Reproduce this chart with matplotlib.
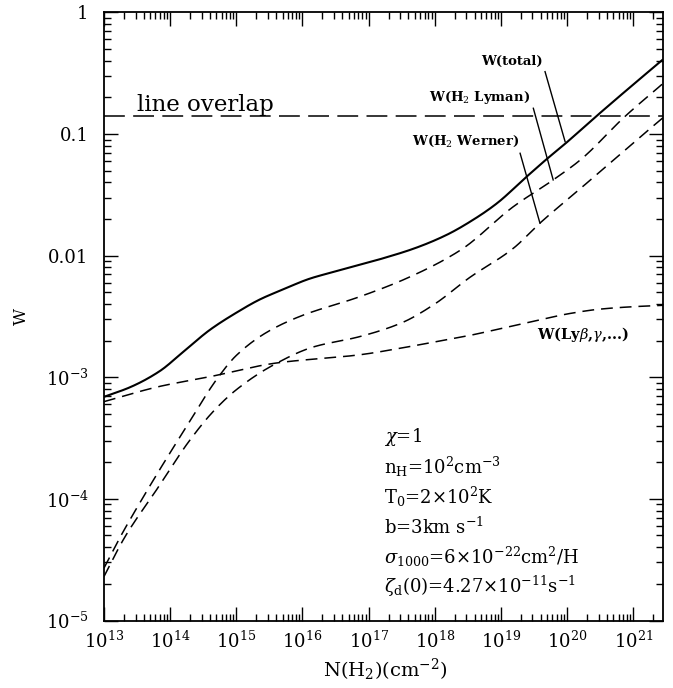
import numpy as np
import matplotlib
matplotlib.use("Agg")
import matplotlib.pyplot as plt

plt.rcParams['font.family'] = ['DejaVu Serif']
plt.rcParams['mathtext.fontset'] = 'dejavuserif'
plt.rcParams['lines.scale_dashes'] = False

# ---- data (log10 N(H2) and W values) ----
logN_total = [13.0, 13.4, 13.84, 14.2, 14.6, 15.0, 15.36, 15.7, 16.11, 16.5, 16.87,
              17.17, 17.7, 18.18, 18.6, 18.94, 19.39, 19.69, 19.97, 20.43, 20.9, 21.45]
W_total = [6.9e-4, 8.3e-4, 1.12e-3, 1.62e-3, 2.45e-3, 3.39e-3, 4.37e-3, 5.25e-3, 6.46e-3,
           7.41e-3, 8.4e-3, 9.33e-3, 1.15e-2, 1.48e-2, 2.0e-2, 2.69e-2, 4.46e-2, 6.2e-2,
           8.3e-2, 0.138, 0.229, 0.41]

logN_lyman = [13.0, 13.24, 13.6, 14.0, 14.25, 14.7, 15.0, 15.46, 15.96, 16.87, 17.575,
              18.39, 19.19, 19.79, 20.2, 20.88, 21.45]
W_lyman = [2.7e-5, 4.8e-5, 1.05e-4, 2.4e-4, 3.94e-4, 9.55e-4, 1.51e-3, 2.34e-3, 3.16e-3,
           4.6e-3, 6.5e-3, 1.11e-2, 2.53e-2, 4.19e-2, 6.11e-2, 0.14, 0.26]

logN_werner = [13.0, 13.31, 13.8, 14.3, 14.65, 15.0, 15.56, 16.16, 16.87, 17.5, 18.0,
               18.51, 19.19, 19.59, 20.2, 20.7, 21.05, 21.45]
W_werner = [2.3e-5, 4.8e-5, 1.2e-4, 3.05e-4, 5.22e-4, 7.89e-4, 1.26e-3, 1.77e-3, 2.16e-3,
            2.8e-3, 4.0e-3, 6.5e-3, 1.15e-2, 1.85e-2, 3.55e-2, 6.1e-2, 8.9e-2, 0.136]

logN_lyb = [13.0, 13.84, 14.6, 15.61, 16.87, 17.5, 18.0, 18.5, 19.0, 19.5, 20.0, 20.5,
            21.0, 21.45]
W_lyb = [6.3e-4, 8.4e-4, 1.01e-3, 1.31e-3, 1.53e-3, 1.74e-3, 1.95e-3, 2.19e-3, 2.51e-3,
         2.88e-3, 3.31e-3, 3.63e-3, 3.8e-3, 3.9e-3]

W_overlap = 0.14

x_ticks = [13, 14, 15, 16, 17, 18, 19, 20, 21]
x_ticklabels = [r'$10^{%d}$' % e for e in x_ticks]
y_ticks = [1e-5, 1e-4, 1e-3, 1e-2, 1e-1, 1]
y_ticklabels = [r'$10^{-5}$', r'$10^{-4}$', r'$10^{-3}$', '0.01', '0.1', '1']

params = [r'$\chi$=1',
          r'n$_{\rm H}$=10$^{2}$cm$^{-3}$',
          r'T$_0$=2×10$^{2}$K',
          r'b=3km s$^{-1}$',
          r'$\sigma_{1000}$=6×10$^{-22}$cm$^{2}$/H',
          r'$\zeta_{\rm d}$(0)=4.27×10$^{-11}$s$^{-1}$']


def pchip(x, y, xs):
    x = np.asarray(x, float); y = np.asarray(y, float)
    h = np.diff(x); d = np.diff(y) / h
    m = np.zeros_like(y)
    m[0], m[-1] = d[0], d[-1]
    for k in range(1, len(x) - 1):
        if d[k - 1] * d[k] > 0:
            w1 = 2 * h[k] + h[k - 1]; w2 = h[k] + 2 * h[k - 1]
            m[k] = (w1 + w2) / (w1 / d[k - 1] + w2 / d[k])
    i = np.clip(np.searchsorted(x, xs) - 1, 0, len(x) - 2)
    t = (xs - x[i]) / h[i]
    h00 = 2 * t**3 - 3 * t**2 + 1; h10 = t**3 - 2 * t**2 + t
    h01 = -2 * t**3 + 3 * t**2; h11 = t**3 - t**2
    return h00 * y[i] + h10 * h[i] * m[i] + h01 * y[i + 1] + h11 * h[i] * m[i + 1]


def smooth(logN, W):
    xs = np.linspace(logN[0], logN[-1], 600)
    ys = pchip(logN, np.log10(W), xs)
    return 10**xs, 10**ys


fig = plt.figure(figsize=(6.73, 6.88), dpi=100)
ax = fig.add_axes([104/673, 1-620.5/688, (663-104)/673, (620.5-12.3)/688])
ax.set_xscale('log'); ax.set_yscale('log')
ax.set_xlim(1e13, 10**21.45)
ax.set_ylim(1e-5, 1)

x, y = smooth(logN_total, W_total)
ax.plot(x, y, color='black', lw=1.5, solid_capstyle='butt')
for lN, W in [(logN_lyman, W_lyman), (logN_werner, W_werner), (logN_lyb, W_lyb)]:
    x, y = smooth(lN, W)
    ax.plot(x, y, color='black', lw=1.1, dashes=(8.5, 5))

ax.plot([1e13, 10**21.45], [W_overlap, W_overlap], color='black', lw=1.1, dashes=(15, 6))
ax.text(10**13.5, 0.155, 'line overlap', fontsize=16.5, ha='left', va='baseline')

# curve labels with pointer lines
lab_kw = dict(fontsize=9.5, fontweight='bold', ha='center', va='center')
ax.text(10**19.17, 10**-0.408, 'W(total)', **lab_kw)
ax.plot([10**19.667, 10**19.97], [10**-0.488, 10**-1.063], color='black', lw=1.0)
ax.text(10**18.68, 10**-0.704, r'W(H$_2$ Lyman)', **lab_kw)
ax.plot([10**19.49, 10**19.79], [10**-0.789, 10**-1.378], color='black', lw=1.0)
ax.text(10**18.47, 10**-1.063, r'W(H$_2$ Werner)', **lab_kw)
ax.plot([10**19.29, 10**19.59], [10**-1.159, 10**-1.734], color='black', lw=1.0)
ax.text(10**20.25, 10**-2.65, r'W(Ly$\beta$,$\gamma$,...)', fontsize=10.5,
        fontweight='bold', ha='center', va='center')

# parameter block
for k, s in enumerate(params):
    ax.text(384/673, 1 - (436.7 + 30*k)/688, s, transform=fig.transFigure,
            fontsize=13, ha='left', va='center')

ax.set_xticks([10.0**e for e in x_ticks])
ax.set_xticklabels(x_ticklabels, fontsize=13)
ax.set_yticks(y_ticks)
ax.set_yticklabels(y_ticklabels, fontsize=13)
ax.tick_params(which='both', direction='in', top=True, right=True, width=1.0)
ax.tick_params(which='major', length=10)
ax.tick_params(which='minor', length=5)
ax.tick_params(axis='x', which='major', pad=7)
ax.tick_params(axis='y', which='major', pad=11)
ax.xaxis.set_minor_locator(matplotlib.ticker.LogLocator(base=10, subs=np.arange(2, 10), numticks=50))
ax.yaxis.set_minor_locator(matplotlib.ticker.LogLocator(base=10, subs=np.arange(2, 10), numticks=50))
ax.xaxis.set_minor_formatter(matplotlib.ticker.NullFormatter())
ax.yaxis.set_minor_formatter(matplotlib.ticker.NullFormatter())
for sp in ax.spines.values():
    sp.set_linewidth(1.3)

fig.text(385/673, 1 - 670/688, r'N(H$_2$)(cm$^{-2}$)', fontsize=14, ha='center', va='center')
fig.text(21.7/673, 1 - 316.7/688, 'W', fontsize=12, rotation=90, ha='center', va='center')

fig.savefig('out.png', dpi=100)
